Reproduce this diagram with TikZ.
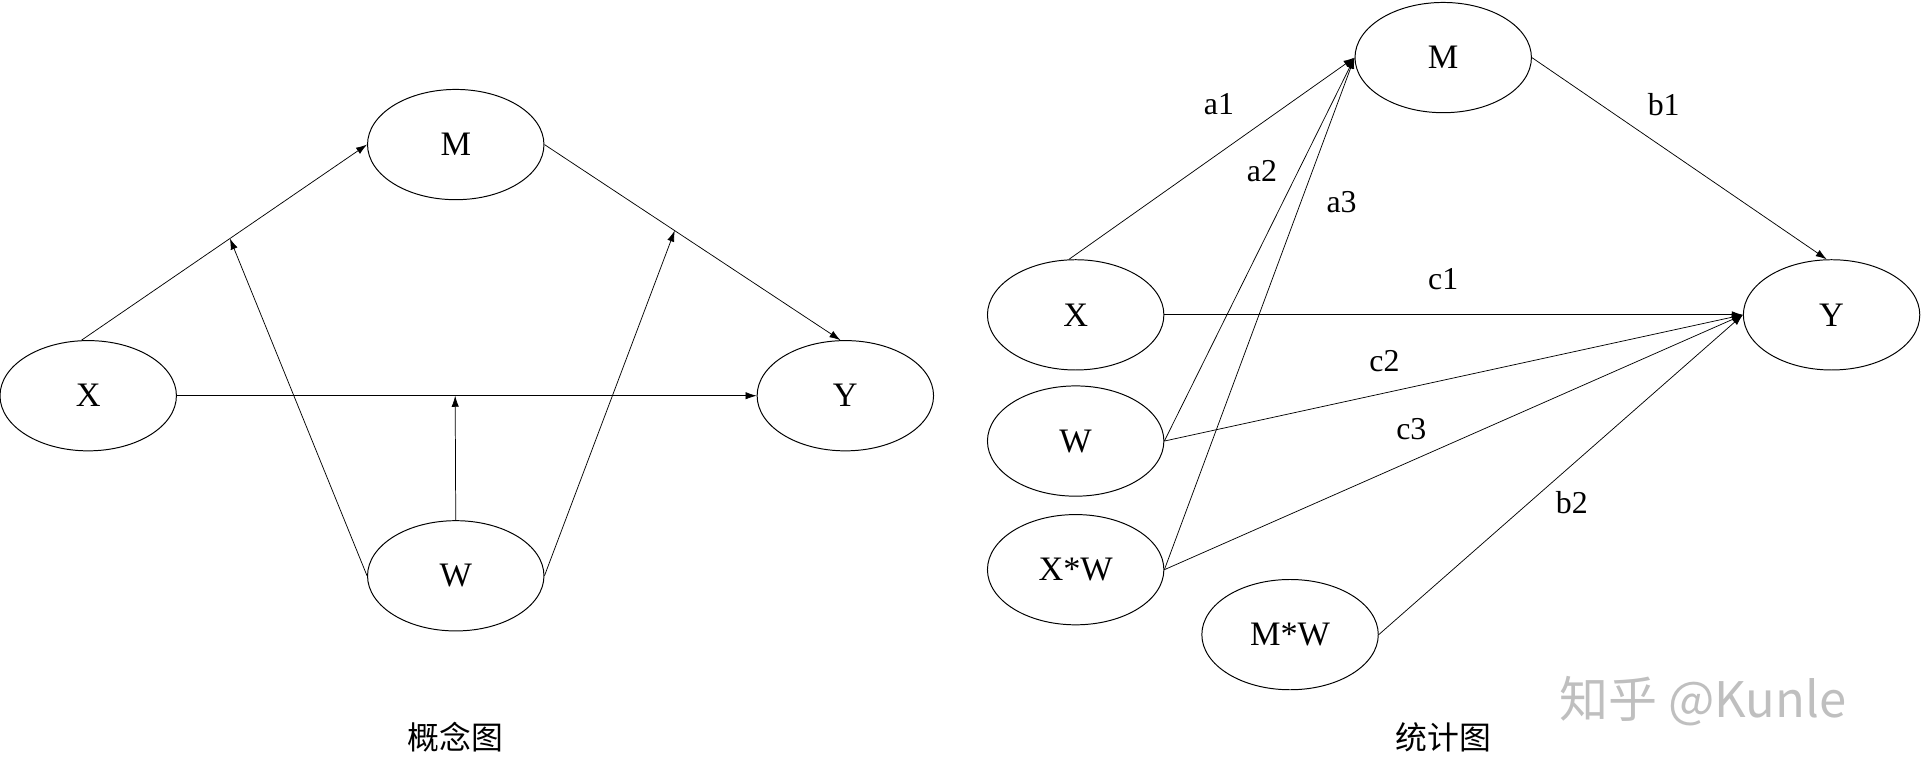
\documentclass[tikz,border=0pt]{standalone}
\usepackage{fontspec}
\setmainfont{Liberation Serif}
\newfontfamily\cjk{Noto Sans CJK SC}
\usetikzlibrary{shapes.geometric,arrows.meta}
\begin{document}
\begin{tikzpicture}[x=1pt,y=-1pt,
        var/.style={ellipse,draw,thick,inner sep=0pt,
          minimum width=144pt,minimum height=90pt,font=\fontsize{28}{30}\selectfont},
        path/.style={-{Latex[length=9pt,width=6pt]},line width=0.6pt},
        lab/.style={font=\fontsize{26}{28}\selectfont}]
      \useasboundingbox (0,0) rectangle (1568,637);
      % conceptual model
      \node (cM) at (372,118) [var] {M};
      \node (cX) at (72,323) [var] {X};
      \node (cY) at (690,323) [var] {Y};
      \node (cW) at (372,470) [var] {W};
      \draw[path] (cX.97) -- (cM.west) coordinate[pos=0.52] (xm);
      \draw[path] (cM.east) -- (cY.95) coordinate[pos=0.44] (my);
      \draw[path] (cX.east) -- (cY.west) coordinate[pos=0.48] (xy);
      \draw[path] (cW.west) -- (xm);
      \draw[path] (cW.east) -- (my);
      \draw[path] (cW.north) -- (xy);
      \node at (372,602) [lab] {\cjk 概念图};
      % statistical model
      \node (sM) at (1178,47) [var] {M};
      \node (sX) at (878,257) [var] {X};
      \node (sW) at (878,360) [var] {W};
      \node (sXW) at (878,465) [var] {X*W};
      \node (sMW) at (1053,518) [var] {M*W};
      \node (sY) at (1495,257) [var] {Y};
      \draw[path] (sX.97) -- (sM.west);
      \draw[path] (sW.east) -- (sM.west);
      \draw[path] (sXW.east) -- (sM.west);
      \draw[path] (sM.east) -- (sY.95);
      \draw[path] (sX.east) -- (sY.west);
      \draw[path] (sW.east) -- (sY.west);
      \draw[path] (sXW.east) -- (sY.west);
      \draw[path] (sMW.east) -- (sY.west);
      \node at (995,85) [lab] {a1};
      \node at (1030,140) [lab] {a2};
      \node at (1095,165) [lab] {a3};
      \node at (1358,85) [lab] {b1};
      \node at (1178,228) [lab] {c1};
      \node at (1130,295) [lab] {c2};
      \node at (1152,350) [lab] {c3};
      \node at (1283,410) [lab] {b2};
      \node at (1178,602) [lab] {\cjk 统计图};
      \node at (1390,572) [font=\sffamily\fontsize{40}{42}\selectfont,text=black!25] {\cjk 知乎 @Kunle};
\end{tikzpicture}
\end{document}
